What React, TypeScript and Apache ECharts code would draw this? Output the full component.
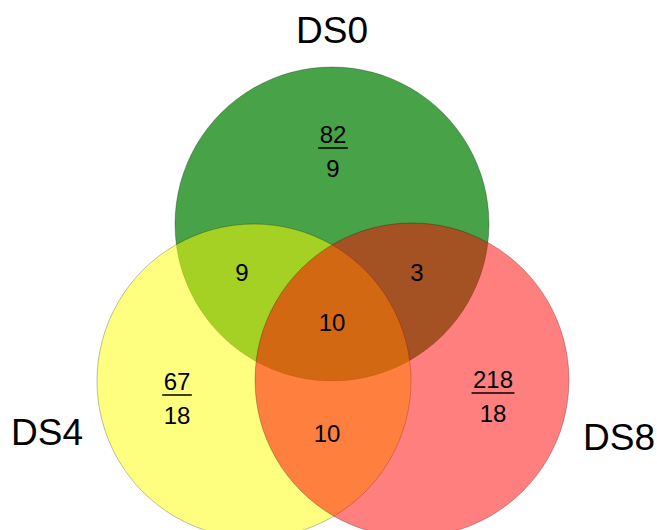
import React, { useEffect, useRef } from "react";
import * as echarts from "echarts";

// ---- data ----
const setNames = ["DS0", "DS4", "DS8"];
const setColors = ["#48a248", "rgba(255,255,0,0.5)", "rgba(255,0,0,0.5)"];
const regionNames = ["DS0 only", "DS0∩DS4", "DS0∩DS8", "DS0∩DS4∩DS8", "DS4 only", "DS4∩DS8", "DS8 only"];
const regionTop = [82, 9, 3, 10, 67, 10, 218];
const regionBottom: (number | null)[] = [9, null, null, null, 18, null, 18];

// ---- layout (pixel space of the 657x530 canvas) ----
const circleCenters = [[332, 224], [254, 381], [412, 380]];
const circleRadius = 157;
const setLabelPos = [[332, 30], [47, 432], [619, 437]];
const regionPos = [[333, 148], [242, 272], [417, 272], [332, 322], [177, 395], [327, 433], [493, 393]];

export default function App() {
  const ref = useRef<HTMLDivElement>(null);
  useEffect(() => {
    document.body.style.margin = "0";
    const chart = echarts.init(ref.current!, null, { renderer: "svg" });
    const font = "'Liberation Sans', Arial, sans-serif";

    const circleData = setNames.map((n, i) => ({
      name: n,
      value: circleCenters[i],
      itemStyle: { color: setColors[i] },
    }));

    const textData: any[] = [];
    const lineData: any[] = [];
    regionNames.forEach((n, i) => {
      const [x, y] = regionPos[i];
      const bottom = regionBottom[i];
      if (bottom === null) {
        textData.push({ name: n, value: [x, y], label: { formatter: String(regionTop[i]) } });
      } else {
        textData.push({ name: n + " top", value: [x, y - 14], label: { formatter: String(regionTop[i]) } });
        textData.push({ name: n + " bottom", value: [x, y + 20], label: { formatter: String(bottom) } });
        const w = String(regionTop[i]).length * 13.3 + 3;
        lineData.push({ name: n + " line", value: [x, y], symbolSize: [w, 1.5] });
      }
    });

    const setLabelData = setNames.map((n, i) => ({ name: n, value: setLabelPos[i], label: { formatter: n } }));

    chart.setOption({
      animation: false,
      grid: { left: 0, right: 0, top: 0, bottom: 0 },
      xAxis: { type: "value", min: 0, max: 657, show: false },
      yAxis: { type: "value", min: 0, max: 530, inverse: true, show: false },
      series: [
        {
          type: "scatter",
          name: "sets",
          symbol: "circle",
          symbolSize: circleRadius * 2,
          data: circleData,
          itemStyle: { borderColor: "rgba(0,0,0,0.25)", borderWidth: 1, opacity: 1 },
          silent: true,
          z: 1,
        },
        {
          type: "scatter",
          name: "fraction lines",
          symbol: "rect",
          data: lineData,
          itemStyle: { color: "#000", opacity: 1 },
          silent: true,
          z: 3,
        },
        {
          type: "scatter",
          name: "region counts",
          symbolSize: 1,
          data: textData,
          itemStyle: { color: "transparent", opacity: 1 },
          label: { show: true, position: "inside", color: "#000", fontSize: 24, fontFamily: font },
          silent: true,
          z: 4,
        },
        {
          type: "scatter",
          name: "set labels",
          symbolSize: 1,
          data: setLabelData,
          itemStyle: { color: "transparent", opacity: 1 },
          label: { show: true, position: "inside", color: "#000", fontSize: 37, fontFamily: font },
          silent: true,
          z: 4,
        },
      ],
    });
    return () => chart.dispose();
  }, []);
  return <div ref={ref} style={{ width: 657, height: 530 }} />;
}
